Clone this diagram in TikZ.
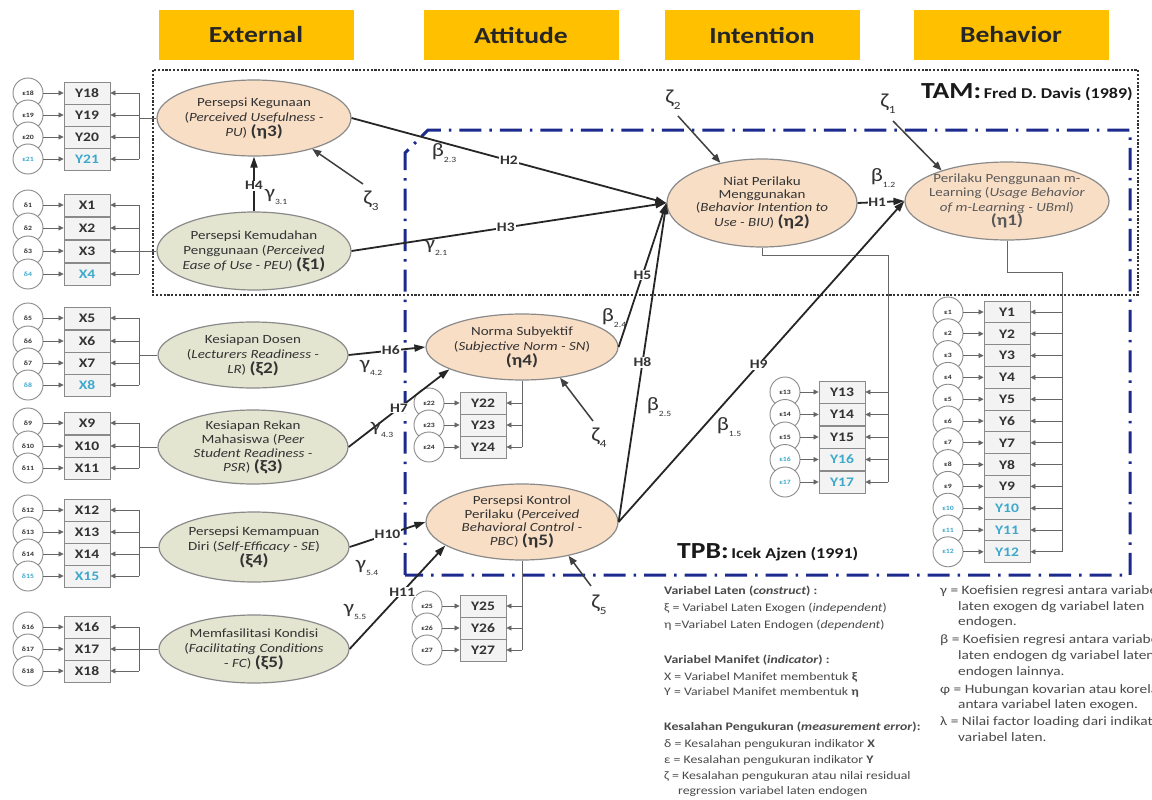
\documentclass[tikz,border=0pt]{standalone}
\usepackage{fontspec}
\setmainfont{Carlito}[FakeStretch=1.2]
\usetikzlibrary{shapes.geometric,arrows.meta}

\definecolor{hdr}{HTML}{FFC000}
\definecolor{peach}{HTML}{F9DEC6}
\definecolor{olive}{HTML}{E3E5D1}
\definecolor{rimgray}{HTML}{8A8A8A}
\definecolor{ink}{HTML}{333333}
\definecolor{cyanink}{HTML}{3FA9CC}
\definecolor{tpbblue}{HTML}{1C2A8E}
\definecolor{legendgray}{HTML}{4A4A4A}
\definecolor{boxfill}{HTML}{F3F3F3}

% small subscripts for path coefficients and residuals
\newcommand\cfsub[1]{\raisebox{-0.3em}{\fontsize{8}{8}\selectfont #1}}
\newcommand\zsub[1]{\raisebox{-0.3em}{\fontsize{11}{11}\selectfont #1}}
\newcommand\latv[1]{{\fontsize{16}{16}\selectfont\bfseries (#1)}}

\tikzset{
  header/.style={fill=hdr, minimum width=195, minimum height=50, inner sep=0,
    font=\fontsize{23}{23}\selectfont\bfseries, text=black!85},
  latpeach/.style={ellipse, draw=rimgray, line width=1.2, fill=peach, inner sep=0},
  latolive/.style={ellipse, draw=rimgray, line width=1.2, fill=olive, inner sep=0},
  etext/.style={align=center, inner sep=0, font=\fontsize{12.5}{15}\selectfont, text=ink},
  errc/.style={circle, draw=rimgray, line width=0.9, fill=white, minimum size=30, inner sep=0,
    font=\fontsize{6.5}{6.5}\selectfont\bfseries},
  indbox/.style={rectangle, draw=rimgray, line width=0.9, fill=boxfill, minimum width=46,
    minimum height=22, inner sep=0, font=\fontsize{13}{13}\selectfont\bfseries},
  indarr/.style={draw=black!60, line width=0.8, -{Triangle[length=5,width=5]}},
  indline/.style={draw=black!60, line width=0.8},
  hyp/.style={draw=black!85, line width=1.8, -{Triangle[length=11,width=7]}},
  hlab/.style={fill=white, inner sep=0.8, font=\fontsize{13}{13}\selectfont\bfseries, text=ink},
  coef/.style={inner sep=0, font=\fontsize{19}{19}\selectfont, text=ink},
  zlab/.style={inner sep=0, font=\fontsize{20}{20}\selectfont, text=ink},
  resid/.style={draw=black!75, line width=1.5, -{Triangle[length=9,width=7]}},
  tamframe/.style={draw=black!80, line width=2, dash pattern=on 2.2pt off 1.6pt},
  tpbframe/.style={draw=tpbblue, line width=3, dash pattern=on 22pt off 8pt on 2.5pt off 8pt},
  legend/.style={anchor=base west, inner sep=0, font=\fontsize{11.5}{11.5}\selectfont, text=legendgray},
  legendr/.style={anchor=base west, inner sep=0, font=\fontsize{12.8}{12.8}\selectfont, text=legendgray},
}

% error circle, indicator box and loading arrows for each row of a block
\newcommand\indgroup[6]{%
  \foreach \yy/\num/\lab/\cl in {#6}{%
    \node[errc, text=\cl] (#1e\num) at (#2,\yy) {#5\num};
    \node[indbox, text=\cl] (#1b\num) at (#3,\yy) {\lab};
    \coordinate (#1k\num) at (#4,\yy);
    \draw[indarr] (#1e\num) -- (#1b\num);
    \draw[indarr] (#1k\num) -- (#1b\num.east);
  }%
}

\begin{document}
\begin{tikzpicture}[x=1pt,y=-1pt]
\useasboundingbox (0,0) rectangle (1152,800);
\fill[white] (0,0) rectangle (1152,800);

% column headers
\node[header] (hExt) at (256,35) {External};
\node[header] (hAtt) at (521,35) {Attitude};
\node[header] (hInt) at (762,35) {Intention};
\node[header] (hBeh) at (1011,35) {Behavior};

% model frames
\draw[tamframe] (153,70) rectangle (1138,295);
\draw[tpbframe] (405,575) -- (405,153) -- (428,130) -- (1130,130) -- (1130,575) -- cycle;

\node[anchor=base east, inner sep=0, text=black!90] (tamlab) at (1133,99)
  {{\fontsize{23}{23}\selectfont\bfseries TAM:} {\fontsize{15}{15}\selectfont\bfseries Fred D. Davis (1989)}};
\node[anchor=base west, inner sep=0, text=black!90] (tpblab) at (677,558)
  {{\fontsize{23}{23}\selectfont\bfseries TPB:} {\fontsize{15}{15}\selectfont\bfseries Icek Ajzen (1991)}};

% latent variables
\node[latpeach, minimum width=194, minimum height=76] (PU)  at (254,118) {};
\node[latolive, minimum width=194, minimum height=78] (PEU) at (254,251) {};
\node[latolive, minimum width=190, minimum height=66] (LR)  at (253,355) {};
\node[latolive, minimum width=190, minimum height=74] (PSR) at (253,447) {};
\node[latolive, minimum width=190, minimum height=70] (SE)  at (254,547) {};
\node[latolive, minimum width=190, minimum height=68] (FC)  at (254,649) {};
\node[latpeach, minimum width=192, minimum height=66] (SN)  at (522,347) {};
\node[latpeach, minimum width=192, minimum height=76] (PBC) at (522,522) {};
\node[latpeach, minimum width=190, minimum height=88] (BIU) at (762,203) {};
\node[latpeach, minimum width=204, minimum height=78] (UB)  at (1007,201) {};

\node[etext] (PUt)  at (PU)  {Persepsi Kegunaan\\(\textit{Perceived Usefulness -}\\\textit{PU}) \latv{η3}};
\node[etext] (PEUt) at (PEU) {Persepsi Kemudahan\\Penggunaan (\textit{Perceived}\\\textit{Ease of Use - PEU}) \latv{ξ1}};
\node[etext] (LRt)  at (LR)  {Kesiapan Dosen\\(\textit{Lecturers Readiness -}\\\textit{LR}) \latv{ξ2}};
\node[etext, font=\fontsize{12.5}{14}\selectfont] (PSRt) at (PSR) {Kesiapan Rekan\\Mahasiswa (\textit{Peer}\\\textit{Student Readiness -}\\\textit{PSR}) \latv{ξ3}};
\node[etext] (SEt)  at (SE)  {Persepsi Kemampuan\\Diri (\textit{Self-Efficacy - SE})\\\latv{ξ4}};
\node[etext] (FCt)  at (FC)  {Memfasilitasi Kondisi\\(\textit{Facilitating Conditions}\\- \textit{FC}) \latv{ξ5}};
\node[etext] (SNt)  at (SN)  {Norma Subyektif\\(\textit{Subjective Norm - SN})\\\latv{η4}};
\node[etext, font=\fontsize{12.5}{13.5}\selectfont] (PBCt) at (PBC) {Persepsi Kontrol\\Perilaku (\textit{Perceived}\\\textit{Behavioral Control -}\\\textit{PBC}) \latv{η5}};
\node[etext, font=\fontsize{12.5}{13}\selectfont] (BIUt) at (BIU) {Niat Perilaku\\Menggunakan\\(\textit{Behavior Intention to}\\\textit{Use - BIU}) \latv{η2}};
\node[etext, font=\fontsize{12.5}{14.5}\selectfont, text=black!65] (UBt) at (UB) {Perilaku Penggunaan m-\\Learning (\textit{Usage Behavior}\\\textit{of m-Learning - UBml})\\\latv{η1}};

% indicator blocks
\indgroup{a}{28}{87}{139}{ε}{93/18/Y18/ink, 115/19/Y19/ink, 137/20/Y20/ink, 159/21/Y21/cyanink}
\indgroup{b}{28}{87}{139}{δ}{205/1/X1/ink, 228/2/X2/ink, 251/3/X3/ink, 274/4/X4/cyanink}
\indgroup{c}{28}{87}{139}{δ}{318/5/X5/ink, 341/6/X6/ink, 363/7/X7/ink, 385/8/X8/cyanink}
\indgroup{d}{28}{87}{139}{δ}{423/9/X9/ink, 446/10/X10/ink, 468/11/X11/ink}
\indgroup{f}{28}{87}{139}{δ}{510/12/X12/ink, 532/13/X13/ink, 554/14/X14/ink, 576/15/X15/cyanink}
\indgroup{g}{28}{87}{139}{δ}{627/16/X16/ink, 649/17/X17/ink, 671/18/X18/ink}
\indgroup{h}{429}{483}{522}{ε}{403/22/Y22/ink, 425/23/Y23/ink, 447/24/Y24/ink}
\indgroup{i}{427}{483}{522}{ε}{606/25/Y25/ink, 628/26/Y26/ink, 650/27/Y27/ink}
\indgroup{j}{785}{842}{888}{ε}{392/13/Y13/ink, 414.5/14/Y14/ink, 437/15/Y15/ink, 459.5/16/Y16/cyanink, 482/17/Y17/cyanink}
\indgroup{k}{948}{1007}{1062}{ε}{312/1/Y1/ink, 333.8/2/Y2/ink, 355.6/3/Y3/ink, 377.4/4/Y4/ink, 399.2/5/Y5/ink, 421/6/Y6/ink, 442.8/7/Y7/ink, 464.6/8/Y8/ink, 486.4/9/Y9/ink, 508.2/10/Y10/cyanink, 530/11/Y11/cyanink, 551.8/12/Y12/cyanink}

% trunks and buses from each latent variable to its indicators
\coordinate (aJ) at (139,118);
\draw[indline] (PU.west) -- (aJ);   \draw[indline] (ak18) -- (ak21);
\coordinate (bJ) at (139,251);
\draw[indline] (PEU.west) -- (bJ);  \draw[indline] (bk1) -- (bk4);
\coordinate (cJ) at (139,355);
\draw[indline] (LR.west) -- (cJ);   \draw[indline] (ck5) -- (ck8);
\coordinate (dJ) at (139,447);
\draw[indline] (PSR.west) -- (dJ);  \draw[indline] (dk9) -- (dk11);
\coordinate (fJ) at (139,547);
\draw[indline] (SE.west) -- (fJ);   \draw[indline] (fk12) -- (fk15);
\coordinate (gJ) at (139,649);
\draw[indline] (FC.west) -- (gJ);   \draw[indline] (gk16) -- (gk18);
\draw[indline] (SN.south) -- (hk24);
\draw[indline] (PBC.south) -- (ik27);
\draw[indline] (BIU.south) -- ++(0,8) -| (jk17);
\draw[indline] (UB.south) -- ++(0,32) -| (kk12);

% structural paths
\draw[hyp] (PU.east)  -- node[hlab,pos=0.5]{H2} (BIU.west);
\draw[hyp] (PEU.east) -- node[hlab,pos=0.49]{H3} (BIU.west);
\draw[hyp] (SN.east)  -- node[hlab,pos=0.5]{H5} (BIU.west);
\draw[hyp] (PBC.east) -- node[hlab,pos=0.5]{H8} (BIU.west);
\draw[hyp] (PBC.east) -- node[hlab,pos=0.49]{H9} (UB.west);
\draw[hyp] (BIU.east) -- node[hlab,pos=0.42]{H1} (UB.west);
\draw[hyp] (PEU.north) -- node[hlab,pos=0.47]{H4} (PU.south);
\draw[hyp] (LR.east)  -- node[hlab,pos=0.55]{H6} (SN.west);
\draw[hyp] (PSR.east) -- node[hlab,pos=0.5]{H7} (SN.197);
\draw[hyp] (SE.east)  -- node[hlab,pos=0.5]{H10} (PBC.west);
\draw[hyp] (FC.east)  -- node[hlab,pos=0.55]{H11} (PBC.197);

% path coefficients
\node[coef] (b23) at (444,153) {β\cfsub{2.3}};
\node[coef] (g21) at (436,248) {γ\cfsub{2.1}};
\node[coef] (g31) at (276,197) {γ\cfsub{3.1}};
\node[coef] (g42) at (371,368) {γ\cfsub{4.2}};
\node[coef] (g43) at (382,430) {γ\cfsub{4.3}};
\node[coef] (g54) at (367,568) {γ\cfsub{5.4}};
\node[coef] (g55) at (355,612) {γ\cfsub{5.5}};
\node[coef] (b24) at (614,318) {β\cfsub{2.4}};
\node[coef] (b25) at (659,407) {β\cfsub{2.5}};
\node[coef] (b15) at (729,427) {β\cfsub{1.5}};
\node[coef] (b12) at (883,178) {β\cfsub{1.2}};

% residual terms
\node[zlab] (z1) at (888,104) {ζ\zsub{1}};
\node[zlab] (z2) at (673,100) {ζ\zsub{2}};
\node[zlab] (z3) at (371,201) {ζ\zsub{3}};
\node[zlab] (z4) at (599,438) {ζ\zsub{4}};
\node[zlab] (z5) at (599,605) {ζ\zsub{5}};
\coordinate (z1t) at (893,121);
\coordinate (z2t) at (678,116);
\coordinate (z3t) at (363,184);
\coordinate (z4t) at (593,421);
\coordinate (z5t) at (591,586);
\draw[resid] (z1t) -- (UB.155);
\draw[resid] (z2t) -- (BIU.136);
\draw[resid] (z3t) -- (PU.-28);
\draw[resid] (z4t) -- (SN.-39);
\draw[resid] (z5t) -- (PBC.-36);

% notation key
\node[legend] (L1)  at (664,594) {\bfseries Variabel Laten (\textit{construct}) :};
\node[legend] (L2)  at (664,611) {ξ = Variabel Laten Exogen (\textit{independent})};
\node[legend] (L3)  at (664,628) {η =Variabel Laten Endogen (\textit{dependent})};
\node[legend] (L4)  at (664,663) {\bfseries Variabel Manifet (\textit{indicator}) :};
\node[legend] (L5)  at (664,680) {X = Variabel Manifet membentuk \textbf{ξ}};
\node[legend] (L6)  at (664,695) {Y = Variabel Manifet membentuk \textbf{η}};
\node[legend] (L7)  at (664,730) {\bfseries Kesalahan Pengukuran (\textit{measurement error}):};
\node[legend] (L8)  at (664,747) {δ = Kesalahan pengukuran indikator \textbf{X}};
\node[legend] (L9)  at (664,763) {ε = Kesalahan pengukuran indikator \textbf{Y}};
\node[legend] (L10) at (664,779) {ζ = Kesalahan pengukuran atau nilai residual};
\node[legend] (L11) at (678,794) {regression variabel laten endogen};

\node[legendr] (R1)  at (940,594) {γ = Koefisien regresi antara variabel};
\node[legendr] (R2)  at (958,610) {laten exogen dg variabel laten};
\node[legendr] (R3)  at (958,625) {endogen.};
\node[legendr] (R4)  at (940,643) {β = Koefisien regresi antara variabel};
\node[legendr] (R5)  at (958,659) {laten endogen dg variabel laten};
\node[legendr] (R6)  at (958,675) {endogen lainnya.};
\node[legendr] (R7)  at (940,693) {φ = Hubungan kovarian atau korelasi};
\node[legendr] (R8)  at (958,708) {antara variabel laten exogen.};
\node[legendr] (R9)  at (940,725) {λ = Nilai factor loading dari indikator};
\node[legendr] (R10) at (958,741) {variabel laten.};
\end{tikzpicture}
\end{document}
